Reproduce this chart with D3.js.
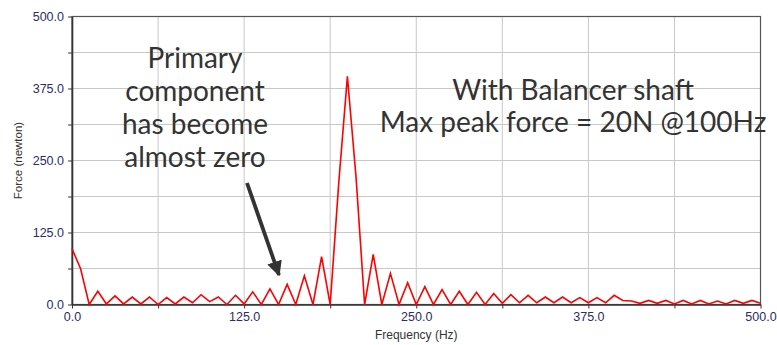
<!DOCTYPE html>
<html>
<head>
<meta charset="utf-8">
<script src="https://cdn.jsdelivr.net/npm/d3@7"></script>
<style>
  html, body { margin: 0; padding: 0; background: #fff; }
  svg { display: block; }
</style>
</head>
<body>
<div id="chart"></div>
<script>
// Frequency bins (Hz), sampled every 6.25 Hz
const freqHz = [
  0, 6.25, 12.5, 18.75, 25, 31.25, 37.5, 43.75, 50, 56.25,
  62.5, 68.75, 75, 81.25, 87.5, 93.75, 100, 106.25, 112.5, 118.75,
  125, 131.25, 137.5, 143.75, 150, 156.25, 162.5, 168.75, 175, 181.25,
  187.5, 193.75, 200, 206.25, 212.5, 218.75, 225, 231.25, 237.5, 243.75,
  250, 256.25, 262.5, 268.75, 275, 281.25, 287.5, 293.75, 300, 306.25,
  312.5, 318.75, 325, 331.25, 337.5, 343.75, 350, 356.25, 362.5, 368.75,
  375, 381.25, 387.5, 393.75, 400, 406.25, 412.5, 418.75, 425, 431.25,
  437.5, 443.75, 450, 456.25, 462.5, 468.75, 475, 481.25, 487.5, 493.75,
  500
];

// Force amplitude (newton)
const forceN = [
  97, 62, 0, 23, 1, 15, 1, 13, 1, 13,
  0, 12, 1, 13, 3, 17, 5, 13, 0, 16,
  1, 22, 0, 27, 0, 35, 0, 50, 0, 83,
  0, 212, 396, 222, 0, 87, 0, 54, 0, 38,
  0, 31, 0, 26, 0, 23, 0, 21, 0, 19,
  2, 17, 3, 16, 3, 13, 3, 13, 3, 12,
  3, 12, 3, 16, 7, 6, 2, 7, 2, 7,
  1, 7, 1, 7, 1, 6, 1, 7, 2, 7,
  2
];

const xTicks = [0, 62.5, 125, 187.5, 250, 312.5, 375, 437.5, 500];
const yTicks = [0, 62.5, 125, 187.5, 250, 312.5, 375, 437.5, 500];
const labelledTicks = [0, 125, 250, 375, 500];

const noteLeft = ['Primary', 'component', 'has become', 'almost zero'];
const noteRight = ['With Balancer shaft', 'Max peak force = 20N @100Hz'];

const W = 777, H = 345;
const margin = { top: 16.5, right: 16.5, bottom: 40.5, left: 72 };
const innerW = W - margin.left - margin.right;
const innerH = H - margin.top - margin.bottom;

const svg = d3.select('#chart').append('svg')
  .attr('width', W)
  .attr('height', H);

const g = svg.append('g')
  .attr('transform', `translate(${margin.left},${margin.top})`);

const x = d3.scaleLinear().domain([0, 500]).range([0, innerW]);
const y = d3.scaleLinear().domain([0, 500]).range([innerH, 0]);

// Grid
g.append('g')
  .attr('class', 'grid')
  .selectAll('line.v')
  .data(xTicks.slice(1, -1))
  .join('line')
  .attr('x1', d => x(d)).attr('x2', d => x(d))
  .attr('y1', 0).attr('y2', innerH)
  .attr('stroke', '#c8c8c8')
  .attr('stroke-width', 1);

g.append('g')
  .attr('class', 'grid')
  .selectAll('line.h')
  .data(yTicks.slice(1, -1))
  .join('line')
  .attr('x1', 0).attr('x2', innerW)
  .attr('y1', d => y(d)).attr('y2', d => y(d))
  .attr('stroke', '#c8c8c8')
  .attr('stroke-width', 1);

// Border (top / right)
g.append('rect')
  .attr('x', 0).attr('y', 0)
  .attr('width', innerW).attr('height', innerH)
  .attr('fill', 'none')
  .attr('stroke', '#555')
  .attr('stroke-width', 1.2);

const fmt = d => labelledTicks.includes(d) ? d.toFixed(1) : '';

// Axes
const xAxis = g.append('g')
  .attr('transform', `translate(0,${innerH})`)
  .call(d3.axisBottom(x).tickValues(xTicks).tickFormat(fmt).tickSize(4).tickSizeOuter(0).tickPadding(4));

const yAxis = g.append('g')
  .call(d3.axisLeft(y).tickValues(yTicks).tickFormat(fmt).tickSize(4).tickSizeOuter(0).tickPadding(4));

[xAxis, yAxis].forEach(a => {
  a.select('.domain').attr('stroke', '#333').attr('stroke-width', 1.6);
  a.selectAll('.tick line').attr('stroke', '#333');
  a.selectAll('.tick text')
    .attr('fill', '#2c2c66')
    .attr('font-family', '"Liberation Sans", Arial, sans-serif')
    .attr('font-size', 12.5);
});

// Axis titles
svg.append('text')
  .attr('x', margin.left + innerW / 2)
  .attr('y', 339)
  .attr('text-anchor', 'middle')
  .attr('font-family', '"Liberation Sans", Arial, sans-serif')
  .attr('font-size', 12)
  .attr('fill', '#333')
  .text('Frequency (Hz)');

svg.append('text')
  .attr('transform', `translate(22,${margin.top + innerH / 2}) rotate(-90)`)
  .attr('text-anchor', 'middle')
  .attr('font-family', '"Liberation Sans", Arial, sans-serif')
  .attr('font-size', 11.5)
  .attr('fill', '#333')
  .text('Force (newton)');

// Spectrum line
const line = d3.line()
  .x((d, i) => x(freqHz[i]))
  .y(d => y(d));

g.append('path')
  .datum(forceN)
  .attr('fill', 'none')
  .attr('stroke', '#ff0000')
  .attr('stroke-width', 1.6)
  .attr('stroke-linejoin', 'miter')
  .attr('d', line);

// Annotations
const noteFont = 'Lato, "Open Sans", sans-serif';

svg.append('g')
  .selectAll('text')
  .data(noteLeft)
  .join('text')
  .attr('x', 195)
  .attr('y', (d, i) => 68 + i * 33)
  .attr('text-anchor', 'middle')
  .attr('font-family', noteFont)
  .attr('font-size', 28)
  .attr('fill', '#333')
  .text(d => d);

svg.append('g')
  .selectAll('text')
  .data(noteRight)
  .join('text')
  .attr('x', 573)
  .attr('y', (d, i) => 100 + i * 32)
  .attr('text-anchor', 'middle')
  .attr('font-family', noteFont)
  .attr('font-size', 28)
  .attr('fill', '#333')
  .text(d => d);

// Arrow
svg.append('defs').append('marker')
  .attr('id', 'arrowhead')
  .attr('viewBox', '0 0 10 10')
  .attr('refX', 9).attr('refY', 5)
  .attr('markerWidth', 4).attr('markerHeight', 4)
  .attr('markerUnits', 'strokeWidth')
  .attr('orient', 'auto')
  .append('path')
  .attr('d', 'M0,0 L10,5 L0,10 z')
  .attr('fill', '#333');

svg.append('line')
  .attr('x1', 247).attr('y1', 183)
  .attr('x2', 279).attr('y2', 275)
  .attr('stroke', '#333')
  .attr('stroke-width', 3.8)
  .attr('marker-end', 'url(#arrowhead)');
</script>
</body>
</html>
